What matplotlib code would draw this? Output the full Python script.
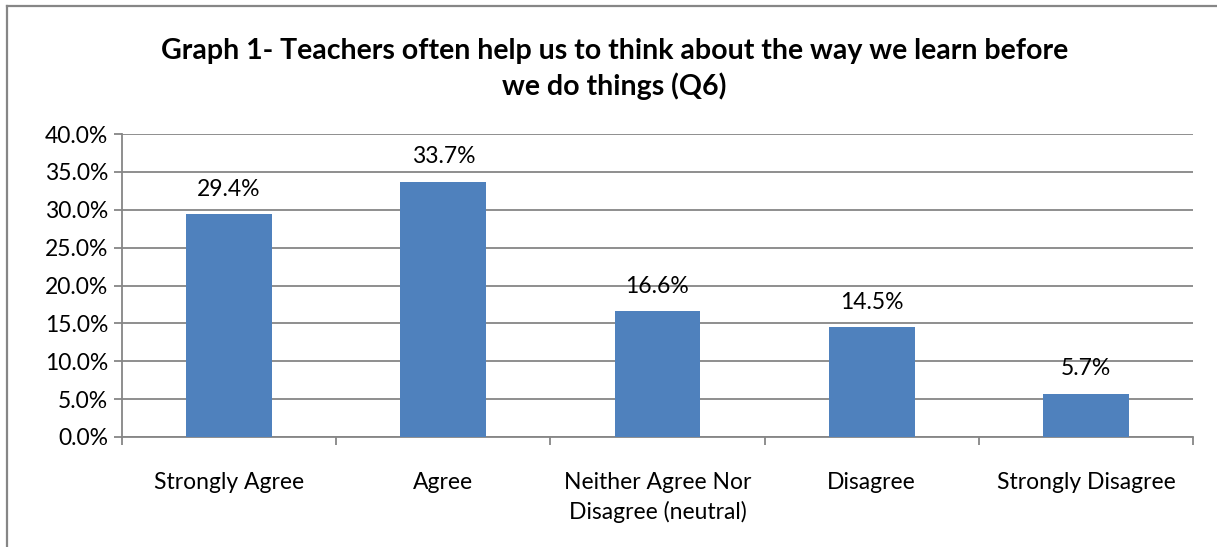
import matplotlib.pyplot as plt
from matplotlib.lines import Line2D
from matplotlib.ticker import FuncFormatter, MultipleLocator

plt.rcParams['font.family'] = ['Lato', 'DejaVu Sans']

# Svarsalternativ och andel svar (%)
categories = ['Strongly Agree', 'Agree', 'Neither Agree Nor\nDisagree (neutral)',
              'Disagree', 'Strongly Disagree']
values = [29.4, 33.7, 16.6, 14.5, 5.7]

grey = '#868686'
bar_color = '#4F81BD'

fig = plt.figure(figsize=(12.17, 5.47), dpi=100)
ax = fig.add_axes([0.1002, 0.2011, 0.8801, 0.5539])

x = range(len(categories))
bars = ax.bar(x, values, width=0.4, color=bar_color, zorder=3)

# Värden ovanför staplarna
for xi, v in zip(x, values):
    ax.text(xi, v + 1.9, f'{v:.1f}%', ha='center', va='bottom', fontsize=16.5)

ax.set_xlim(-0.5, len(categories) - 0.5)
ax.set_ylim(0, 40)
ax.yaxis.set_major_locator(MultipleLocator(5))
ax.yaxis.set_major_formatter(FuncFormatter(lambda v, p: f'{v:.1f}%'))
ax.grid(axis='y', color=grey, linewidth=1.3, zorder=0)

# Kategorietiketter mellan tickarna
ax.set_xticks([i - 0.5 for i in range(len(categories) + 1)])
ax.set_xticklabels([])
ax.set_xticks(list(x), minor=True)
ax.set_xticklabels(categories, minor=True, fontsize=16.5, linespacing=1.45)
ax.tick_params(axis='x', which='minor', length=0, pad=25)
ax.tick_params(axis='x', which='major', length=6, width=1.3, color=grey)
ax.tick_params(axis='y', length=6, width=1.3, color=grey, labelsize=16.5, pad=4)

for side in ['top', 'right']:
    ax.spines[side].set_visible(False)
for side in ['left', 'bottom']:
    ax.spines[side].set_color(grey)
    ax.spines[side].set_linewidth(1.3)

fig.suptitle('Graph 1- Teachers often help us to think about the way we learn before\nwe do things (Q6)',
             x=0.505, y=0.93, fontsize=20.5, fontweight='bold', linespacing=1.37)

# Ram runt diagrammet (övre och vänstra kanten)
fig.add_artist(Line2D([7 / 1217, 1], [1 - 6 / 547, 1 - 6 / 547], color=grey, linewidth=1.6,
                      transform=fig.transFigure))
fig.add_artist(Line2D([7 / 1217, 7 / 1217], [0, 1 - 6 / 547], color=grey, linewidth=1.6,
                      transform=fig.transFigure))

fig.savefig('out.png', dpi=100)
